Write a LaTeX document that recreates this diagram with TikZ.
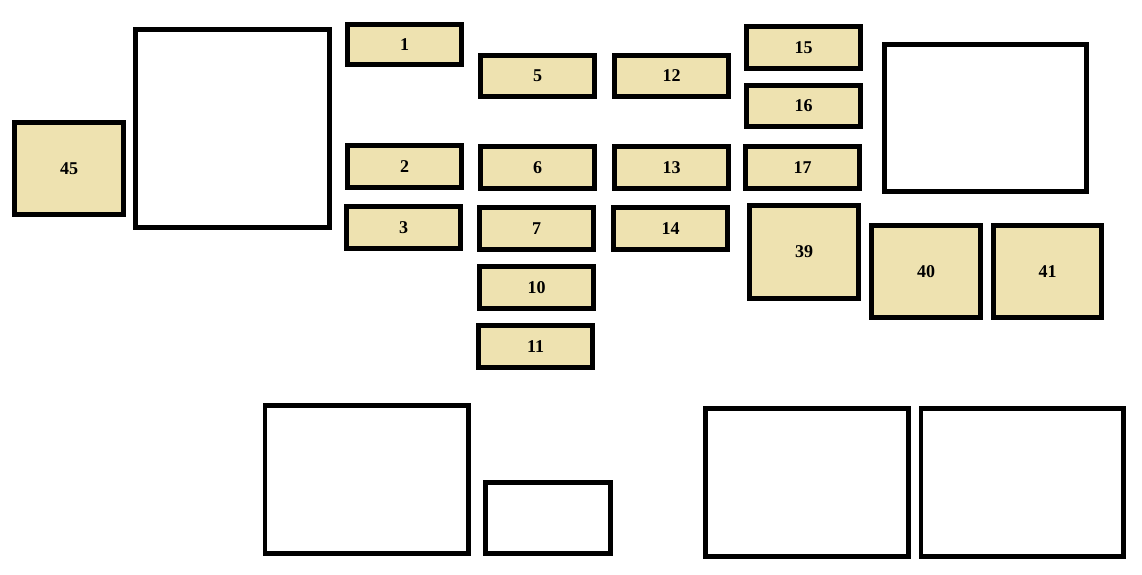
\documentclass[tikz,border=0pt]{standalone}
\usepackage{fontspec}
\setmainfont{Liberation Serif}
\begin{document}
\begin{tikzpicture}[x=1pt,y=-1pt,
  sz/.style 2 args={minimum width=#1pt-4.6pt, minimum height=#2pt-4.6pt},
  box/.style={draw, line width=4.6pt, inner sep=0pt, fill=white},
  fuse/.style={box, fill=fusefill, font=\fontsize{18}{18}\selectfont\bfseries}]
\definecolor{fusefill}{RGB}{238,226,176}
\useasboundingbox[fill=white] (0,0) rectangle (1142,575);
% large empty blocks
\node[box, sz={199}{203}] (bl) at (232.5,128.5) {};
\node[box, sz={207}{152}] (br) at (985.5,118) {};
\node[box, sz={208}{153}] (b1) at (366.5,479.5) {};
\node[box, sz={129.5}{76}] (b2) at (547.75,518) {};
\node[box, sz={207.4}{153}] (b3) at (807,482.5) {};
\node[box, sz={207}{153}] (b4) at (1022,482.5) {};
% fuses
\node[fuse, sz={114}{97}] (f45) at (69,168.5) {45};
\node[fuse, sz={119}{45}] (f1) at (404.5,44.5) {1};
\node[fuse, sz={119}{46}] (f5) at (537.5,76) {5};
\node[fuse, sz={119}{46}] (f12) at (671.5,76) {12};
\node[fuse, sz={119}{47}] (f2) at (404.5,166.5) {2};
\node[fuse, sz={119}{47}] (f6) at (537.5,167.5) {6};
\node[fuse, sz={119}{47}] (f13) at (671.5,167.5) {13};
\node[fuse, sz={119}{47}] (f3) at (403.5,227.5) {3};
\node[fuse, sz={119}{47}] (f7) at (536.5,228.5) {7};
\node[fuse, sz={119}{47}] (f14) at (670.5,228.5) {14};
\node[fuse, sz={119}{47}] (f10) at (536.5,287.5) {10};
\node[fuse, sz={119}{47}] (f11) at (535.5,346.5) {11};
\node[fuse, sz={119}{47}] (f15) at (803.5,47.5) {15};
\node[fuse, sz={119}{46}] (f16) at (803.5,106) {16};
\node[fuse, sz={119}{47}] (f17) at (802.5,167.5) {17};
\node[fuse, sz={114}{98}] (f39) at (804,252) {39};
\node[fuse, sz={114}{97}] (f40) at (926,271.5) {40};
\node[fuse, sz={113}{97}] (f41) at (1047.5,271.5) {41};
\end{tikzpicture}
\end{document}
